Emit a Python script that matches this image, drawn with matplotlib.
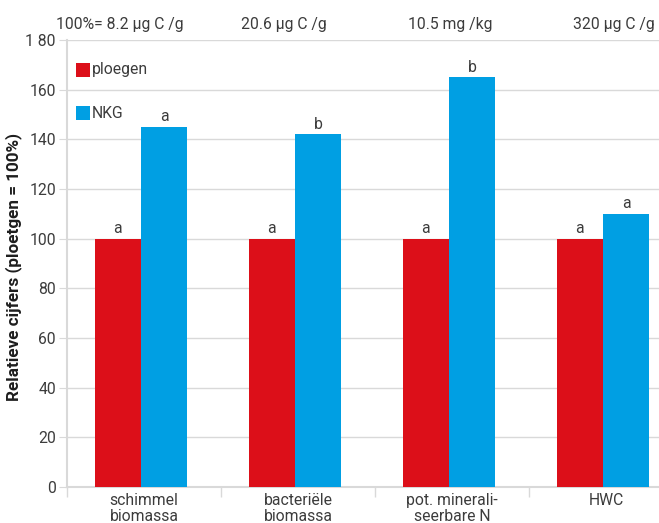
import matplotlib
matplotlib.use("Agg")
import matplotlib.pyplot as plt
import numpy as np

categories = ["schimmel\nbiomassa", "bacteriële\nbiomassa", "pot. minerali-\nseerbare N", "HWC"]
ploegen = [100, 100, 100, 100]
nkg = [145, 142, 165, 110]
letters_ploegen = ["a", "a", "a", "a"]
letters_nkg = ["a", "b", "b", "a"]
top_labels = ["100%= 8.2 µg C /g", "20.6 µg C /g", "10.5 mg /kg", "320 µg C /g"]
yticks = [0, 20, 40, 60, 80, 100, 120, 140, 160, 180]
yticklabels = ["0", "20", "40", "60", "80", "100", "120", "140", "160", "1 80"]

RED = "#dc0f19"
BLUE = "#009fe3"
TXT = "#3c3c3c"
GRID = "#d9d9d9"
FS = 11.3

plt.rcParams['font.family'] = ['Roboto', 'DejaVu Sans']

fig = plt.figure(figsize=(6.59, 5.23), dpi=100)
ax = fig.add_axes([67/659, 1-487/523, 616/659, 447/523])

x = np.arange(len(categories))
w = 0.30
off = -0.02
ax.bar(x + off - w/2, ploegen, w, color=RED, zorder=3)
ax.bar(x + off + w/2, nkg, w, color=BLUE, zorder=3)

for i in range(len(categories)):
    ax.text(x[i] + off - w/2, ploegen[i] + 1, letters_ploegen[i], ha='center', va='bottom',
            fontsize=FS, color=TXT)
    ax.text(x[i] + off + w/2, nkg[i] + 1, letters_nkg[i], ha='center', va='bottom',
            fontsize=FS, color=TXT)

ax.set_xlim(-0.5, len(categories) - 0.5)
ax.set_ylim(0, 180)
ax.set_yticks(yticks)
ax.set_yticklabels(yticklabels, fontsize=FS, color=TXT)
ax.yaxis.grid(True, color=GRID, linewidth=1, zorder=0)
ax.tick_params(axis='y', length=6, color=GRID, pad=2)

ax.set_xticks(x)
ax.set_xticklabels(categories, fontsize=FS, color=TXT, linespacing=1.1)
ax.set_xticks(np.arange(len(categories) + 1) - 0.5, minor=True)
ax.tick_params(axis='x', which='major', length=0, pad=4)
ax.tick_params(axis='x', which='minor', length=7, color=GRID, width=1)

for s in ['top', 'right']:
    ax.spines[s].set_visible(False)
for s in ['left', 'bottom']:
    ax.spines[s].set_color(GRID)
    ax.spines[s].set_linewidth(1.5)

ax.set_ylabel("Relatieve cijfers (ploetgen = 100%)", fontsize=12.3, fontweight='bold',
              color='#1e1e1e')
ax.yaxis.set_label_coords(-(67 - 22) / 616, (487 - 267) / 447)

# legend
ax.scatter([-0.393], [168], marker='s', s=88, color=RED, linewidths=0, zorder=4, clip_on=False)
ax.text(-0.34, 168, "ploegen", va='center', ha='left', fontsize=FS, color=TXT)
ax.scatter([-0.393], [150.5], marker='s', s=88, color=BLUE, linewidths=0, zorder=4, clip_on=False)
ax.text(-0.34, 150.5, "NKG", va='center', ha='left', fontsize=FS, color=TXT)

# top labels
top_px = [120, 284, 450, 614]
for lbl, px in zip(top_labels, top_px):
    fig.text(px/659, 1-24/523, lbl, ha='center', va='center', fontsize=FS, color=TXT)

fig.savefig("out.png", dpi=100)
